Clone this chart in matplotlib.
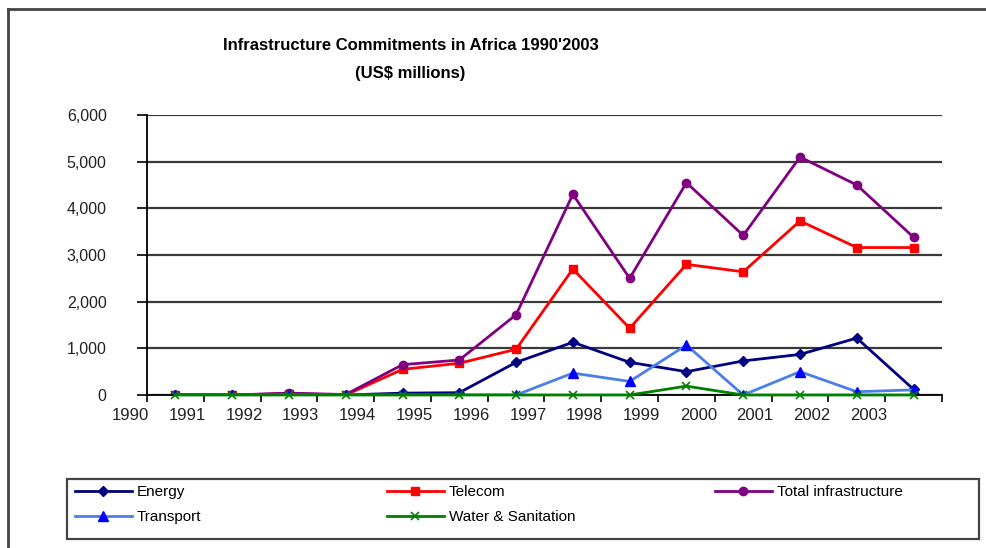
import numpy as np
import matplotlib
matplotlib.use("Agg")
import matplotlib.pyplot as plt
from matplotlib.lines import Line2D
from matplotlib.patches import Rectangle

plt.rcParams['font.family'] = ['Liberation Sans', 'DejaVu Sans']

years = [str(y) for y in range(1990, 2004)]
energy = [0, 0, 0, 0, 40, 50, 700, 1130, 700, 500, 730, 870, 1220, 120]
telecom = [0, 0, 30, 0, 550, 680, 980, 2700, 1430, 2800, 2640, 3730, 3160, 3160]
total = [10, 0, 40, 10, 650, 750, 1720, 4300, 2500, 4550, 3420, 5100, 4500, 3380]
transport = [0, 0, 0, 0, 0, 0, 0, 470, 290, 1070, 0, 500, 70, 110]
water = [0, 0, 0, 0, 0, 0, 0, 0, 0, 190, 0, 0, 0, 0]

fig = plt.figure(figsize=(9.87, 5.48), dpi=100)
ax = fig.add_axes([0.1489, 0.2792, 0.8055, 0.5109])

x = np.arange(len(years))
lw = 2.0
h_en, = ax.plot(x, energy, color='#000080', lw=lw, marker='D', ms=5, label='Energy', zorder=3)
h_te, = ax.plot(x, telecom, color='#FF0000', lw=lw, marker='s', ms=6, label='Telecom', zorder=3)
h_to, = ax.plot(x, total, color='#800080', lw=lw, marker='o', ms=6, label='Total infrastructure', zorder=3)
h_tr, = ax.plot(x, transport, color='#4A7FE8', lw=lw, marker='^', ms=7,
                mfc='#0000FF', mec='#0000FF', label='Transport', zorder=3)
h_wa, = ax.plot(x, water, color='#008000', lw=lw, marker='x', ms=6, mew=1.2,
                label='Water & Sanitation', zorder=5, clip_on=False)

ax.set_xlim(-0.5, 13.5)
ax.set_ylim(0, 6000)
ax.set_yticks(np.arange(0, 6001, 1000))
ax.set_yticklabels(['0' if v == 0 else f'{v:,}' for v in range(0, 6001, 1000)])
ax.yaxis.grid(True, color='#3a3a3a', lw=1.6)
ax.set_axisbelow(True)
ax.tick_params(axis='y', direction='out', length=7, width=1.2, pad=22,
               labelsize=11.5, labelcolor='#222222')

# category boundaries get the tick marks; year labels sit to the left of each point
ax.set_xticks(np.arange(-0.5, 14, 1))
ax.set_xticklabels([])
ax.tick_params(axis='x', direction='out', length=5, width=1.2)
for i, yr in enumerate(years):
    ax.text(i - 0.79, -0.075, yr, transform=ax.get_xaxis_transform(),
            ha='center', va='center', fontsize=12, color='#222222')

for s in ['top', 'right']:
    ax.spines[s].set_visible(False)
for s in ['left', 'bottom']:
    ax.spines[s].set_color('black')
    ax.spines[s].set_linewidth(1.3)
ax.spines['bottom'].set_zorder(4)

fig.text(0.416, 0.917, "Infrastructure Commitments in Africa 1990'2003",
         ha='center', va='center', fontsize=12, fontweight='bold')
fig.text(0.416, 0.866, "(US$ millions)", ha='center', va='center',
         fontsize=12, fontweight='bold')

# outer frame (top and left edges)
fig.add_artist(Line2D([8 / 987, 8 / 987], [0, 1 - 9 / 548], transform=fig.transFigure,
                      color='#444444', lw=2))
fig.add_artist(Line2D([8 / 987, 1], [1 - 9 / 548, 1 - 9 / 548], transform=fig.transFigure,
                      color='#444444', lw=2))

# legend box with three columns
fig.add_artist(Rectangle((67 / 987, 9 / 548), 912 / 987, 60 / 548, transform=fig.transFigure,
                         fill=False, edgecolor='#444444', lw=1.6))
columns = [([h_en, h_tr], ['Energy', 'Transport'], 75),
           ([h_te, h_wa], ['Telecom', 'Water & Sanitation'], 387),
           ([h_to], ['Total infrastructure'], 715)]
for handles, labels, xpix in columns:
    lg = fig.legend(handles, labels, loc='upper left',
                    bbox_to_anchor=(xpix / 987, 1 - 485 / 548),
                    fontsize=11, frameon=False, handlelength=3.7, handletextpad=0.35,
                    labelspacing=0.75, borderpad=0, borderaxespad=0)

fig.savefig('out.png', dpi=100)
